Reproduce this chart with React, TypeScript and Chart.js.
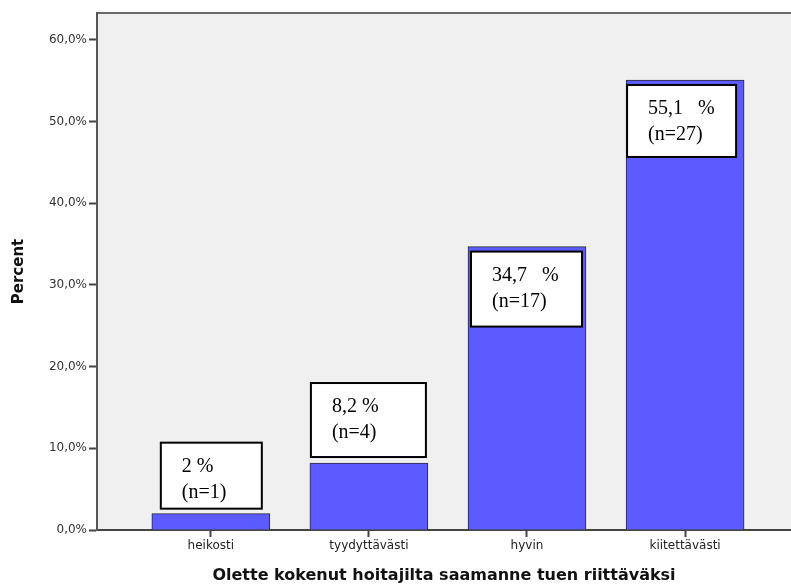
import React, { useEffect, useRef } from "react";
import { Chart, registerables } from "chart.js";

Chart.register(...registerables);

// Survey answers: how adequate the support received from nurses felt
const categories = ["heikosti", "tyydyttävästi", "hyvin", "kiitettävästi"];
const percentValues = [2, 8.2, 34.7, 55.1];
const counts = [1, 4, 17, 27];
const yTickValues = [0, 10, 20, 30, 40, 50, 60];

// Spacing between number and percent sign inside each label box
const percentGaps = [" ", " ", "   ", "   "];

// Label box geometry relative to its bar
const boxStyles = [
  { dx: 9, w: 101, h: 66, inside: false, gap: 5 },
  { dx: 1, w: 115, h: 74, inside: false, gap: 6 },
  { dx: 3, w: 111, h: 75, inside: true, gap: 5 },
  { dx: 1, w: 109, h: 72, inside: true, gap: 5 },
];

const fmt = (v: number) => String(v).replace(".", ",");

const plotFrame = {
  id: "plotFrame",
  beforeDraw(chart: any) {
    const { ctx, chartArea } = chart;
    ctx.save();
    ctx.fillStyle = "#f0f0f0";
    ctx.fillRect(chartArea.left, chartArea.top, chartArea.right - chartArea.left, chartArea.bottom - chartArea.top);
    ctx.strokeStyle = "#6a6a6a";
    ctx.lineWidth = 2;
    ctx.beginPath();
    ctx.moveTo(chartArea.left, chartArea.top);
    ctx.lineTo(chartArea.right, chartArea.top);
    ctx.stroke();
    ctx.restore();
  },
};

const valueBoxes = {
  id: "valueBoxes",
  afterDatasetsDraw(chart: any) {
    const { ctx } = chart;
    const meta = chart.getDatasetMeta(0);
    ctx.save();
    meta.data.forEach((bar: any, i: number) => {
      const s = boxStyles[i];
      const left = bar.x - bar.width / 2 + s.dx;
      const top = s.inside ? bar.y + s.gap : bar.y - s.gap - s.h;
      ctx.fillStyle = "#ffffff";
      ctx.fillRect(left, top, s.w, s.h);
      ctx.strokeStyle = "#000000";
      ctx.lineWidth = 2;
      ctx.strokeRect(left, top, s.w, s.h);
      ctx.fillStyle = "#000000";
      ctx.font = '20px "Liberation Serif", "Times New Roman", serif';
      ctx.textAlign = "left";
      ctx.textBaseline = "middle";
      ctx.fillText(fmt(percentValues[i]) + percentGaps[i] + "%", left + 21, top + 24);
      ctx.fillText("(n=" + counts[i] + ")", left + 21, top + 50);
    });
    ctx.restore();
  },
};

export default function App() {
  const canvasRef = useRef<HTMLCanvasElement | null>(null);

  useEffect(() => {
    if (!canvasRef.current) return;
    const chart = new Chart(canvasRef.current, {
      type: "bar",
      data: {
        datasets: [
          {
            label: "Percent",
            data: percentValues.map((v, i) => ({ x: i + 1, y: v })),
            backgroundColor: "#5b5bff",
            borderColor: "#2a2a3a",
            borderWidth: 1,
            barThickness: 118,
          },
        ],
      },
      options: {
        responsive: false,
        animation: false,
        devicePixelRatio: 1,
        layout: { padding: { top: 13, right: 0, left: 0, bottom: 0 } },
        plugins: {
          legend: { display: false },
          tooltip: { enabled: false },
        },
        scales: {
          x: {
            type: "linear",
            offset: false,
            min: 0.28,
            max: 4.67,
            afterBuildTicks: (scale: any) => {
              scale.ticks = categories.map((_, i) => ({ value: i + 1 }));
            },
            afterFit: (scale: any) => {
              scale.height = 57;
            },
            grid: {
              offset: false,
              drawOnChartArea: false,
              drawTicks: true,
              tickLength: 7,
              tickWidth: 2,
              tickColor: "#444444",
            },
            border: { display: true, color: "#444444", width: 2 },
            ticks: {
              autoSkip: false,
              maxRotation: 0,
              padding: 2,
              color: "#222222",
              font: { family: '"DejaVu Sans", sans-serif', size: 12 },
              callback: (value: any) => categories[Number(value) - 1] ?? "",
            },
            title: {
              display: true,
              text: "Olette kokenut hoitajilta saamanne tuen riittäväksi",
              color: "#111111",
              font: { family: '"DejaVu Sans", sans-serif', size: 16, weight: "bold" },
              padding: { top: 0, bottom: 2 },
            },
          },
          y: {
            min: 0,
            max: 63.3,
            afterBuildTicks: (scale: any) => {
              scale.ticks = yTickValues.map((v) => ({ value: v }));
            },
            afterFit: (scale: any) => {
              scale.width = 97;
            },
            grid: {
              drawOnChartArea: false,
              drawTicks: true,
              tickLength: 8,
              tickWidth: 2,
              tickColor: "#444444",
            },
            border: { display: true, color: "#555555", width: 2 },
            ticks: {
              padding: 2,
              color: "#333333",
              font: { family: '"DejaVu Sans", sans-serif', size: 12 },
              callback: (value: any) => Number(value).toFixed(1).replace(".", ",") + "%",
            },
            title: {
              display: true,
              text: "Percent",
              color: "#111111",
              font: { family: '"DejaVu Sans", sans-serif', size: 15, weight: "bold" },
              padding: { top: 10, bottom: 0 },
            },
          },
        },
      },
      plugins: [plotFrame, valueBoxes],
    } as any);
    return () => chart.destroy();
  }, []);

  return (
    <div style={{ position: "fixed", left: 0, top: 0, width: 791, height: 587, background: "#ffffff" }}>
      <canvas ref={canvasRef} width={791} height={587} style={{ display: "block" }} />
    </div>
  );
}
